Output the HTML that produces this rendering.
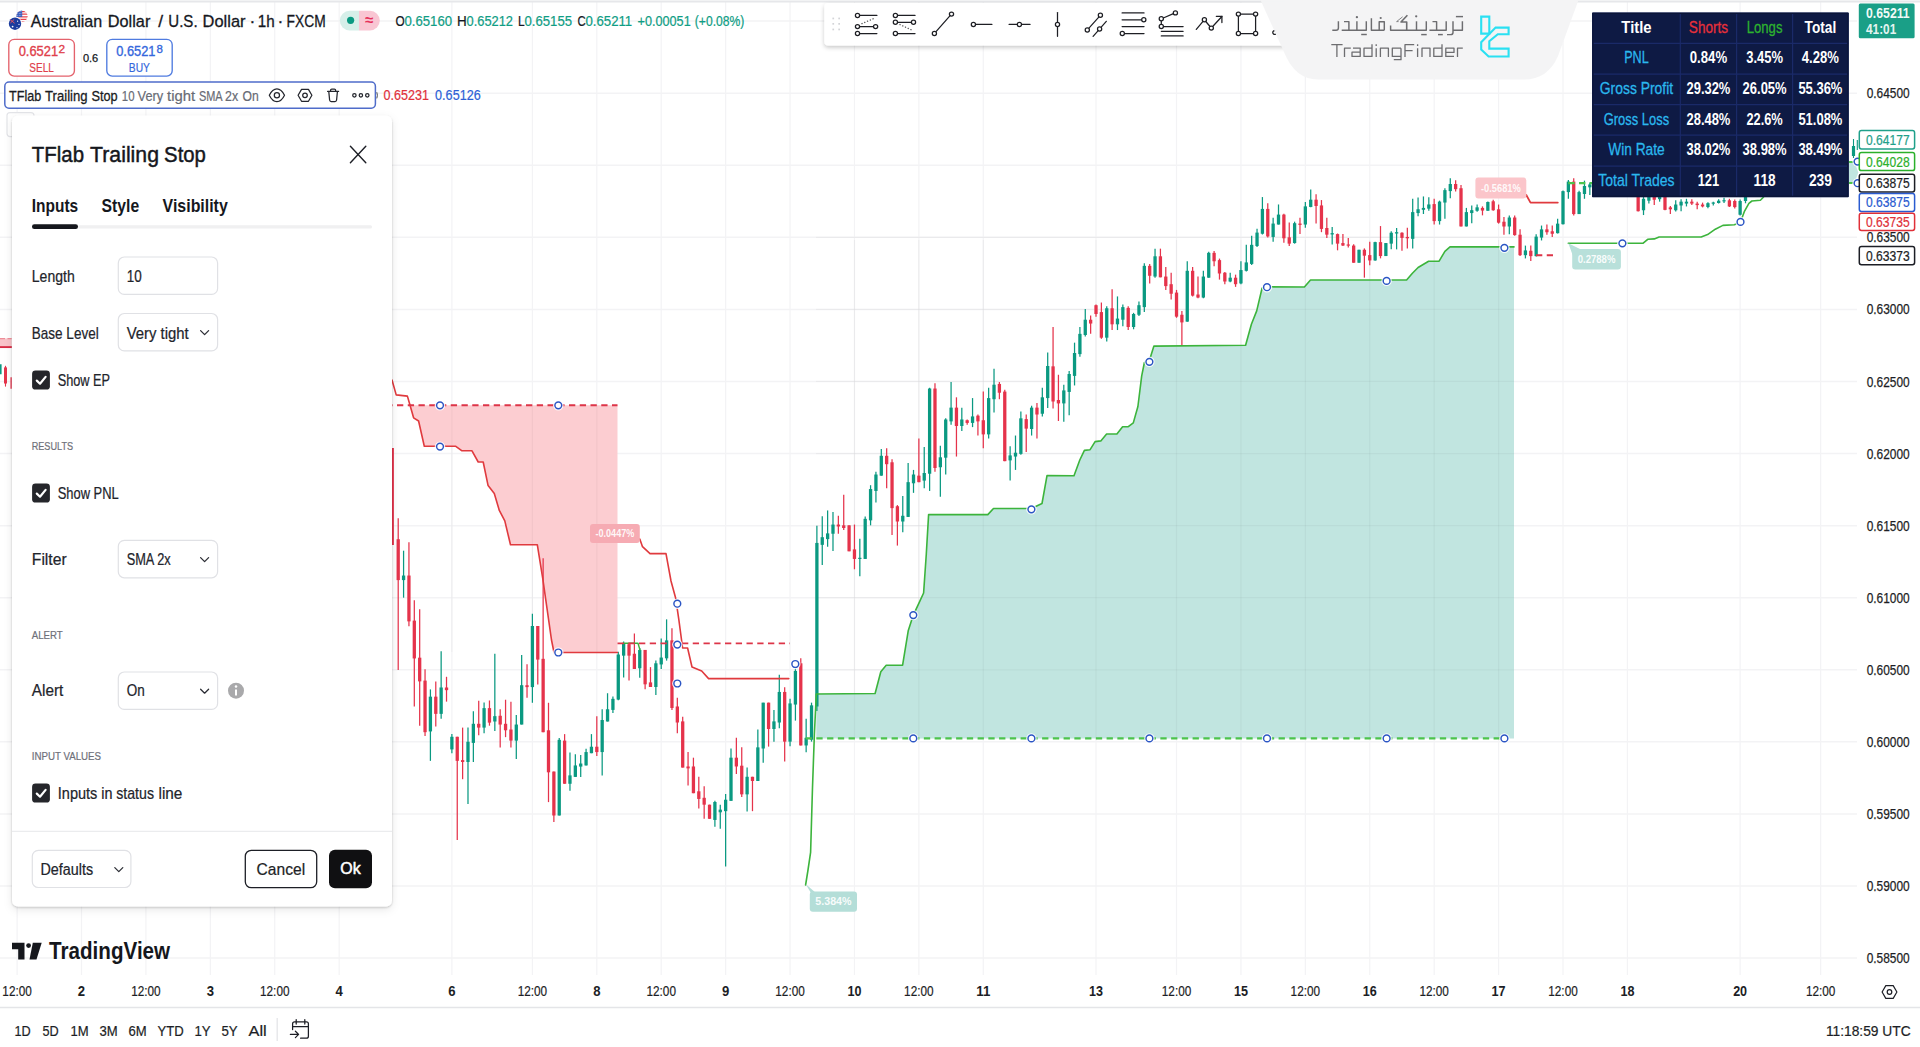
<!DOCTYPE html><html><head><meta charset="utf-8"><title>AUDUSD</title>
<style>html,body{margin:0;padding:0;background:#fff;width:1920px;height:1047px;overflow:hidden}svg{display:block;position:absolute;left:0;top:0}text{font-family:"Liberation Sans",sans-serif;}</style></head><body>
<svg width="1920" height="1047" viewBox="0 0 1920 1047">
<defs><filter id="sh" x="-10%" y="-10%" width="120%" height="120%"><feDropShadow dx="0" dy="1" stdDeviation="1.1" flood-color="#000" flood-opacity="0.2"/><feDropShadow dx="0" dy="3" stdDeviation="4" flood-color="#000" flood-opacity="0.09"/></filter><filter id="sh2" x="-10%" y="-40%" width="120%" height="200%"><feDropShadow dx="0" dy="2" stdDeviation="2.2" flood-color="#000" flood-opacity="0.22"/></filter><clipPath id="cpTool"><rect x="815" y="0" width="470" height="60"/></clipPath></defs>
<rect width="1920" height="1047" fill="#fff"/>
<g stroke="#f3f3f5" stroke-width="1.5" fill="none"><path d="M17.1,2V975" stroke-width="1.2"/><path d="M81.51,2V975" stroke-width="1.2"/><path d="M145.93,2V975" stroke-width="1.2"/><path d="M210.34,2V975" stroke-width="1.2"/><path d="M274.75,2V975" stroke-width="1.2"/><path d="M339.16,2V975" stroke-width="1.2"/><path d="M451.88,2V975" stroke-width="1.2"/><path d="M532.4,2V975" stroke-width="1.2"/><path d="M596.81,2V975" stroke-width="1.2"/><path d="M661.22,2V975" stroke-width="1.2"/><path d="M725.64,2V975" stroke-width="1.2"/><path d="M790.05,2V975" stroke-width="1.2"/><path d="M854.46,2V975" stroke-width="1.2"/><path d="M918.87,2V975" stroke-width="1.2"/><path d="M983.29,2V975" stroke-width="1.2"/><path d="M1096.01,2V975" stroke-width="1.2"/><path d="M1176.52,2V975" stroke-width="1.2"/><path d="M1240.94,2V975" stroke-width="1.2"/><path d="M1305.35,2V975" stroke-width="1.2"/><path d="M1369.76,2V975" stroke-width="1.2"/><path d="M1434.17,2V975" stroke-width="1.2"/><path d="M1498.59,2V975" stroke-width="1.2"/><path d="M1563,2V975" stroke-width="1.2"/><path d="M1627.41,2V975" stroke-width="1.2"/><path d="M1740.13,2V975" stroke-width="1.2"/><path d="M1820.65,2V975" stroke-width="1.2"/><path d="M0,21.07H1857"/><path d="M0,93.15H1857"/><path d="M0,165.23H1857"/><path d="M0,237.31H1857"/><path d="M0,309.39H1857"/><path d="M0,381.47H1857"/><path d="M0,453.55H1857"/><path d="M0,525.63H1857"/><path d="M0,597.71H1857"/><path d="M0,669.79H1857"/><path d="M0,741.87H1857"/><path d="M0,813.95H1857"/><path d="M0,886.03H1857"/><path d="M0,958.11H1857"/></g>
<polygon points="816.3,738.4 816.3,694 875.1,693.5 880.8,671.7 886.2,665.2 902.6,665.2 908.3,630.4 913.3,615.1 918.7,603.7 923.6,593 926.3,554 928.6,514.6 987.8,514.6 993.5,508.5 1031.4,508.5 1042,503.5 1047,475.6 1074,475.8 1079.8,460 1084.4,450.4 1090.1,449.7 1095.1,441.6 1100.8,440.9 1106.6,434 1116.9,434 1122.6,426.7 1128.3,426.7 1133.3,422.9 1137.9,406.5 1141.7,375.9 1144.4,362.5 1149.4,360.6 1153.9,346.1 1245.6,345.3 1251.4,324.3 1256.7,310.9 1262.1,288 1267,286.9 1304.4,287 1310.5,280 1406.6,280 1412.4,273.3 1418.1,267.5 1428.6,261.2 1439.1,261.2 1444.9,251.3 1450,246.9 1514,246.9 1514,738.4" fill="#c1e5e0"/><polygon points="409.9,405.3 409.9,404.8 413.6,417.8 418.6,421 424.3,446.3 455.8,446.3 462,450.8 472,450.8 478.2,462 483.2,462 488.1,485.6 494.3,493.5 499.3,510.4 504.8,520.9 510.5,544.7 537.3,544.7 542.8,578.8 551.5,640 554,652.5 617.5,652.5 617.5,405.3" fill="#fccdd1"/><g stroke="#000" stroke-opacity="0.035" stroke-width="1.3"><path d="M451.88,405.3V652"/><path d="M532.4,405.3V652"/><path d="M596.81,405.3V652"/><path d="M854.46,240V738.4"/><path d="M918.87,240V738.4"/><path d="M983.29,240V738.4"/><path d="M1096.01,240V738.4"/><path d="M1176.52,240V738.4"/><path d="M1240.94,240V738.4"/><path d="M1305.35,240V738.4"/><path d="M1369.76,240V738.4"/><path d="M1434.17,240V738.4"/><path d="M1498.59,240V738.4"/><path d="M816,237.31H1514"/><path d="M816,309.39H1514"/><path d="M816,381.47H1514"/><path d="M816,453.55H1514"/><path d="M816,525.63H1514"/><path d="M816,597.71H1514"/><path d="M816,669.79H1514"/></g><path d="M1848.5,162 L1854.5,162 L1858.3,172.5 L1854.5,183 L1848.5,183Z" fill="#c1e5e0"/>
<g stroke="#0a9981" fill="none"><path d="M403.58,550.69V597.69" stroke-width="1.25"/><path d="M403.58,575.53V580.11" stroke-width="3.3"/><path d="M430.41,689.4V760.86" stroke-width="1.25"/><path d="M430.41,696.66V731.43" stroke-width="3.3"/><path d="M441.15,651.19V718.82" stroke-width="1.25"/><path d="M441.15,687.49V713.86" stroke-width="3.3"/><path d="M451.88,734.11V753.21" stroke-width="1.25"/><path d="M451.88,736.78V749.39" stroke-width="3.3"/><path d="M467.99,727.61V804.04" stroke-width="1.25"/><path d="M467.99,741.75V762" stroke-width="3.3"/><path d="M473.36,711.18V762" stroke-width="1.25"/><path d="M473.36,723.79V742.9" stroke-width="3.3"/><path d="M484.09,702.39V733.34" stroke-width="1.25"/><path d="M484.09,708.12V727.61" stroke-width="3.3"/><path d="M494.83,653.86V731.05" stroke-width="1.25"/><path d="M494.83,716.15V721.5" stroke-width="3.3"/><path d="M516.3,715V758.95" stroke-width="1.25"/><path d="M516.3,724.55V740.6" stroke-width="3.3"/><path d="M521.66,655.01V724.55" stroke-width="1.25"/><path d="M521.66,685.2V724.55" stroke-width="3.3"/><path d="M532.4,613.74V702.77" stroke-width="1.25"/><path d="M532.4,625.97V687.11" stroke-width="3.3"/><path d="M559.24,737.93V815.5" stroke-width="1.25"/><path d="M559.24,739.84V815.5" stroke-width="3.3"/><path d="M569.97,752.45V790.66" stroke-width="1.25"/><path d="M569.97,775.38V783.78" stroke-width="3.3"/><path d="M575.34,754.36V776.9" stroke-width="1.25"/><path d="M575.34,765.44V776.9" stroke-width="3.3"/><path d="M580.71,755.12V776.9" stroke-width="1.25"/><path d="M580.71,763.53V766.59" stroke-width="3.3"/><path d="M586.08,748.63V765.44" stroke-width="1.25"/><path d="M586.08,752.07V765.44" stroke-width="3.3"/><path d="M591.44,734.11V753.21" stroke-width="1.25"/><path d="M591.44,746.72V753.21" stroke-width="3.3"/><path d="M602.18,709.27V775.38" stroke-width="1.25"/><path d="M602.18,719.97V752.07" stroke-width="3.3"/><path d="M607.55,693.22V721.5" stroke-width="1.25"/><path d="M607.55,709.27V721.5" stroke-width="3.3"/><path d="M612.92,696.54V712.97" stroke-width="1.25"/><path d="M612.92,698.83V709.91" stroke-width="3.3"/><path d="M618.28,651.83V700.36" stroke-width="1.25"/><path d="M618.28,654.51V699.59" stroke-width="3.3"/><path d="M623.65,641.51V677.43" stroke-width="1.25"/><path d="M623.65,643.04V655.65" stroke-width="3.3"/><path d="M639.75,648.01V677.81" stroke-width="1.25"/><path d="M639.75,649.92V668.26" stroke-width="3.3"/><path d="M655.86,660.62V695.01" stroke-width="1.25"/><path d="M655.86,663.29V686.99" stroke-width="3.3"/><path d="M661.22,638.46V669.03" stroke-width="1.25"/><path d="M661.22,657.56V664.44" stroke-width="3.3"/><path d="M666.59,619.35V660.62" stroke-width="1.25"/><path d="M666.59,640.37V658.33" stroke-width="3.3"/><path d="M714.9,800.86V826.84" stroke-width="1.25"/><path d="M714.9,802V819.96" stroke-width="3.3"/><path d="M720.27,804.68V828.75" stroke-width="1.25"/><path d="M720.27,809.64V812.32" stroke-width="3.3"/><path d="M725.64,793.98V866.58" stroke-width="1.25"/><path d="M725.64,799.71V811.17" stroke-width="3.3"/><path d="M731,748.51V800.86" stroke-width="1.25"/><path d="M731,757.68V800.86" stroke-width="3.3"/><path d="M747.11,767.61V811.56" stroke-width="1.25"/><path d="M747.11,776.78V794.36" stroke-width="3.3"/><path d="M757.84,729.4V780.99" stroke-width="1.25"/><path d="M757.84,747.36V780.99" stroke-width="3.3"/><path d="M763.21,702.65V762.64" stroke-width="1.25"/><path d="M763.21,702.65V748.51" stroke-width="3.3"/><path d="M773.95,709.91V741.63" stroke-width="1.25"/><path d="M773.95,721.38V729.02" stroke-width="3.3"/><path d="M779.31,674.76V728.25" stroke-width="1.25"/><path d="M779.31,691.95V722.52" stroke-width="3.3"/><path d="M790.05,698.83V746.21" stroke-width="1.25"/><path d="M790.05,703.42V741.63" stroke-width="3.3"/><path d="M795.42,667.12V720.61" stroke-width="1.25"/><path d="M795.42,670.94V704.56" stroke-width="3.3"/><path d="M806.15,718.7V752.33" stroke-width="1.25"/><path d="M806.15,737.81V745.45" stroke-width="3.3"/><path d="M811.52,702.65V741.63" stroke-width="1.25"/><path d="M811.52,705.33V739.72" stroke-width="3.3"/><path d="M816.89,525.73V711.06" stroke-width="1.25"/><path d="M816.89,542.93V706.47" stroke-width="3.3"/><path d="M822.26,516.18V565.09" stroke-width="1.25"/><path d="M822.26,537.2V544.84" stroke-width="3.3"/><path d="M827.62,510.45V546.75" stroke-width="1.25"/><path d="M827.62,533.37V539.11" stroke-width="3.3"/><path d="M832.99,511.95V550.93" stroke-width="1.25"/><path d="M832.99,524.56V533.73" stroke-width="3.3"/><path d="M859.83,538.7V576.15" stroke-width="1.25"/><path d="M859.83,557.78V558.98" stroke-width="3.3"/><path d="M865.2,516.54V558.95" stroke-width="1.25"/><path d="M865.2,518.83V558.95" stroke-width="3.3"/><path d="M870.57,485.2V525.33" stroke-width="1.25"/><path d="M870.57,489.03V520.36" stroke-width="3.3"/><path d="M875.93,471.83V502.4" stroke-width="1.25"/><path d="M875.93,474.51V490.94" stroke-width="3.3"/><path d="M881.3,448.9V475.65" stroke-width="1.25"/><path d="M881.3,455.78V475.65" stroke-width="3.3"/><path d="M902.77,495.9V532.2" stroke-width="1.25"/><path d="M902.77,515.77V521.51" stroke-width="3.3"/><path d="M908.14,463.04V516.92" stroke-width="1.25"/><path d="M908.14,482.15V516.92" stroke-width="3.3"/><path d="M913.51,469.92V492.85" stroke-width="1.25"/><path d="M913.51,474.51V483.29" stroke-width="3.3"/><path d="M924.24,446.99V488.26" stroke-width="1.25"/><path d="M924.24,472.98V480.62" stroke-width="3.3"/><path d="M929.61,387.76V490.94" stroke-width="1.25"/><path d="M929.61,388.53V473.74" stroke-width="3.3"/><path d="M940.35,445.85V496.67" stroke-width="1.25"/><path d="M940.35,457.31V467.24" stroke-width="3.3"/><path d="M945.71,418.33V474.51" stroke-width="1.25"/><path d="M945.71,419.48V457.69" stroke-width="3.3"/><path d="M951.08,382.03V424.83" stroke-width="1.25"/><path d="M951.08,407.63V421.39" stroke-width="3.3"/><path d="M961.82,407.63V430.94" stroke-width="1.25"/><path d="M961.82,419.48V425.98" stroke-width="3.3"/><path d="M972.55,398.08V427.12" stroke-width="1.25"/><path d="M972.55,416.42V422.92" stroke-width="3.3"/><path d="M988.65,387.76V438.59" stroke-width="1.25"/><path d="M988.65,398.08V434.38" stroke-width="3.3"/><path d="M994.02,368.66V412.6" stroke-width="1.25"/><path d="M994.02,384.71V399.23" stroke-width="3.3"/><path d="M1010.13,446.23V480.62" stroke-width="1.25"/><path d="M1010.13,455.4V460.37" stroke-width="3.3"/><path d="M1015.49,435.53V469.92" stroke-width="1.25"/><path d="M1015.49,452.72V456.55" stroke-width="3.3"/><path d="M1020.86,411.46V454.64" stroke-width="1.25"/><path d="M1020.86,418.33V453.87" stroke-width="3.3"/><path d="M1031.6,405.72V435.53" stroke-width="1.25"/><path d="M1031.6,407.63V429.03" stroke-width="3.3"/><path d="M1042.33,387.76V416.42" stroke-width="1.25"/><path d="M1042.33,397.32V413.75" stroke-width="3.3"/><path d="M1047.7,352.61V408.02" stroke-width="1.25"/><path d="M1047.7,365.98V398.08" stroke-width="3.3"/><path d="M1063.8,384.68V421.75" stroke-width="1.25"/><path d="M1063.8,390.42V403.41" stroke-width="3.3"/><path d="M1069.17,370.93V415.25" stroke-width="1.25"/><path d="M1069.17,373.99V391.94" stroke-width="3.3"/><path d="M1074.54,342.65V385.45" stroke-width="1.25"/><path d="M1074.54,352.97V375.9" stroke-width="3.3"/><path d="M1079.91,326.99V356.79" stroke-width="1.25"/><path d="M1079.91,333.86V354.12" stroke-width="3.3"/><path d="M1085.27,309.03V336.54" stroke-width="1.25"/><path d="M1085.27,319.72V335.01" stroke-width="3.3"/><path d="M1106.74,306.35V341.51" stroke-width="1.25"/><path d="M1106.74,308.26V337.68" stroke-width="3.3"/><path d="M1117.48,296.42V330.04" stroke-width="1.25"/><path d="M1117.48,318.58V324.31" stroke-width="3.3"/><path d="M1122.85,304.44V326.22" stroke-width="1.25"/><path d="M1122.85,307.12V319.72" stroke-width="3.3"/><path d="M1133.58,312.85V329.28" stroke-width="1.25"/><path d="M1133.58,313.99V326.99" stroke-width="3.3"/><path d="M1138.95,301.38V315.9" stroke-width="1.25"/><path d="M1138.95,305.2V314.76" stroke-width="3.3"/><path d="M1144.32,263.17V312.08" stroke-width="1.25"/><path d="M1144.32,265.85V307.12" stroke-width="3.3"/><path d="M1155.05,248.65V277.69" stroke-width="1.25"/><path d="M1155.05,256.29V276.55" stroke-width="3.3"/><path d="M1187.26,261.26V321.64" stroke-width="1.25"/><path d="M1187.26,270.81V321.64" stroke-width="3.3"/><path d="M1203.36,270.81V298.33" stroke-width="1.25"/><path d="M1203.36,276.55V297.56" stroke-width="3.3"/><path d="M1208.73,251.71V277.69" stroke-width="1.25"/><path d="M1208.73,252.85V277.69" stroke-width="3.3"/><path d="M1230.2,272.72V282.28" stroke-width="1.25"/><path d="M1230.2,277.69V281.51" stroke-width="3.3"/><path d="M1240.94,261.26V284.19" stroke-width="1.25"/><path d="M1240.94,270.05V283.42" stroke-width="3.3"/><path d="M1246.3,244.83V271.58" stroke-width="1.25"/><path d="M1246.3,262.41V270.81" stroke-width="3.3"/><path d="M1251.67,235.66V265.08" stroke-width="1.25"/><path d="M1251.67,244.83V263.94" stroke-width="3.3"/><path d="M1257.04,228.78V247.12" stroke-width="1.25"/><path d="M1257.04,232.6V245.98" stroke-width="3.3"/><path d="M1262.41,197.07V234.51" stroke-width="1.25"/><path d="M1262.41,208.91V233.75" stroke-width="3.3"/><path d="M1273.14,217.84V241.73" stroke-width="1.25"/><path d="M1273.14,223.57V236.95" stroke-width="3.3"/><path d="M1278.51,204.46V224.53" stroke-width="1.25"/><path d="M1278.51,214.59V224.53" stroke-width="3.3"/><path d="M1294.61,221.66V243.64" stroke-width="1.25"/><path d="M1294.61,223.19V243.06" stroke-width="3.3"/><path d="M1305.35,201.98V227.78" stroke-width="1.25"/><path d="M1305.35,206.37V224.53" stroke-width="3.3"/><path d="M1310.72,189.56V207.33" stroke-width="1.25"/><path d="M1310.72,199.68V206.95" stroke-width="3.3"/><path d="M1332.19,227.01V244.59" stroke-width="1.25"/><path d="M1332.19,233.13V234.46" stroke-width="3.3"/><path d="M1359.03,249.75V262.75" stroke-width="1.25"/><path d="M1359.03,249.75V262.75" stroke-width="3.3"/><path d="M1375.13,241.73V260.84" stroke-width="1.25"/><path d="M1375.13,242.11V260.45" stroke-width="3.3"/><path d="M1385.86,243.06V256.06" stroke-width="1.25"/><path d="M1385.86,243.06V256.06" stroke-width="3.3"/><path d="M1391.23,231.22V249.37" stroke-width="1.25"/><path d="M1391.23,232.74V243.64" stroke-width="3.3"/><path d="M1396.6,227.97V249.37" stroke-width="1.25"/><path d="M1396.6,232.17V233.51" stroke-width="3.3"/><path d="M1412.7,198.73V248.41" stroke-width="1.25"/><path d="M1412.7,212.11V238.86" stroke-width="3.3"/><path d="M1418.07,197.39V216.31" stroke-width="1.25"/><path d="M1418.07,209.24V213.06" stroke-width="3.3"/><path d="M1423.44,196.44V214.02" stroke-width="1.25"/><path d="M1423.44,207.9V209.81" stroke-width="3.3"/><path d="M1428.81,197.2V210.77" stroke-width="1.25"/><path d="M1428.81,204.46V208.67" stroke-width="3.3"/><path d="M1439.54,200.64V224.53" stroke-width="1.25"/><path d="M1439.54,201.6V221.09" stroke-width="3.3"/><path d="M1444.91,188.22V218.79" stroke-width="1.25"/><path d="M1444.91,190.13V202.55" stroke-width="3.3"/><path d="M1450.28,178.28V198.16" stroke-width="1.25"/><path d="M1450.28,184.01V191.09" stroke-width="3.3"/><path d="M1466.38,207.9V226.44" stroke-width="1.25"/><path d="M1466.38,212.11V226.44" stroke-width="3.3"/><path d="M1471.75,205.42V223.19" stroke-width="1.25"/><path d="M1471.75,210.19V213.06" stroke-width="3.3"/><path d="M1477.12,204.46V211.72" stroke-width="1.25"/><path d="M1477.12,207.33V210.77" stroke-width="3.3"/><path d="M1487.85,201.6V210.77" stroke-width="1.25"/><path d="M1487.85,201.98V210.77" stroke-width="3.3"/><path d="M1509.32,215.61V234.15" stroke-width="1.25"/><path d="M1509.32,217.52V226.5" stroke-width="3.3"/><path d="M1525.42,245.61V258.42" stroke-width="1.25"/><path d="M1525.42,250.39V255.17" stroke-width="3.3"/><path d="M1536.16,234.15V256.5" stroke-width="1.25"/><path d="M1536.16,236.63V256.12" stroke-width="3.3"/><path d="M1541.53,225.55V240.45" stroke-width="1.25"/><path d="M1541.53,229.37V237.59" stroke-width="3.3"/><path d="M1557.63,218.86V233.57" stroke-width="1.25"/><path d="M1557.63,223.64V233.19" stroke-width="3.3"/><path d="M1563,190.58V224.59" stroke-width="1.25"/><path d="M1563,191.15V224.21" stroke-width="3.3"/><path d="M1568.37,180.07V198.79" stroke-width="1.25"/><path d="M1568.37,181.6V192.11" stroke-width="3.3"/><path d="M1579.1,190.77V214.08" stroke-width="1.25"/><path d="M1579.1,192.11V214.08" stroke-width="3.3"/><path d="M1584.47,180.64V198.79" stroke-width="1.25"/><path d="M1584.47,185.99V194.02" stroke-width="3.3"/><path d="M1589.84,182.55V194.97" stroke-width="1.25"/><path d="M1589.84,184.46V187.33" stroke-width="3.3"/><path d="M1605.94,185.42V195.93" stroke-width="1.25"/><path d="M1605.94,189.24V194.97" stroke-width="3.3"/><path d="M1611.31,183.51V194.97" stroke-width="1.25"/><path d="M1611.31,187.33V192.11" stroke-width="3.3"/><path d="M1622.04,185.42V195.93" stroke-width="1.25"/><path d="M1622.04,189.24V194.02" stroke-width="3.3"/><path d="M1643.51,195.93V215.04" stroke-width="1.25"/><path d="M1643.51,198.79V210.26" stroke-width="3.3"/><path d="M1648.88,194.97V203.57" stroke-width="1.25"/><path d="M1648.88,196.88V200.71" stroke-width="3.3"/><path d="M1659.62,194.97V201.66" stroke-width="1.25"/><path d="M1659.62,196.88V199.18" stroke-width="3.3"/><path d="M1675.72,200.32V211.6" stroke-width="1.25"/><path d="M1675.72,204.53V210.26" stroke-width="3.3"/><path d="M1681.09,199.18V211.22" stroke-width="1.25"/><path d="M1681.09,201.66V205.48" stroke-width="3.3"/><path d="M1686.46,198.79V206.44" stroke-width="1.25"/><path d="M1686.46,201.66V203.57" stroke-width="3.3"/><path d="M1707.93,202.23V208.35" stroke-width="1.25"/><path d="M1707.93,203.19V207.01" stroke-width="3.3"/><path d="M1713.29,201.66V205.48" stroke-width="1.25"/><path d="M1713.29,202.49V203.69" stroke-width="3.3"/><path d="M1718.66,199.18V203.57" stroke-width="1.25"/><path d="M1718.66,200.71V203" stroke-width="3.3"/><path d="M1724.03,197.84V203" stroke-width="1.25"/><path d="M1724.03,200.2V201.4" stroke-width="3.3"/><path d="M1740.13,199.45V215.49" stroke-width="1.25"/><path d="M1740.13,200.98V214.73" stroke-width="3.3"/><path d="M1745.5,191.81V203.27" stroke-width="1.25"/><path d="M1745.5,193.34V200.98" stroke-width="3.3"/><path d="M1750.87,185.7V196.39" stroke-width="1.25"/><path d="M1750.87,187.23V194.1" stroke-width="3.3"/><path d="M1761.6,178.06V188.75" stroke-width="1.25"/><path d="M1761.6,181.12V187.23" stroke-width="3.3"/><path d="M1766.97,175V184.17" stroke-width="1.25"/><path d="M1766.97,178.06V181.88" stroke-width="3.3"/></g><g stroke="#e5334b" fill="none"><path d="M398.21,518.21V669.91" stroke-width="1.25"/><path d="M398.21,539.23V580.11" stroke-width="3.3"/><path d="M408.94,542.29V626.35" stroke-width="1.25"/><path d="M408.94,575.53V621.38" stroke-width="3.3"/><path d="M414.31,600.37V706.6" stroke-width="1.25"/><path d="M414.31,620.62V658.45" stroke-width="3.3"/><path d="M419.68,609.16V725.7" stroke-width="1.25"/><path d="M419.68,657.68V681.38" stroke-width="3.3"/><path d="M425.05,669.15V736.02" stroke-width="1.25"/><path d="M425.05,680.61V732.2" stroke-width="3.3"/><path d="M435.78,681.38V726.47" stroke-width="1.25"/><path d="M435.78,696.66V713.86" stroke-width="3.3"/><path d="M446.52,676.79V701.63" stroke-width="1.25"/><path d="M446.52,687.49V690.16" stroke-width="3.3"/><path d="M457.25,736.78V839.95" stroke-width="1.25"/><path d="M457.25,736.78V760.86" stroke-width="3.3"/><path d="M462.62,727.61V779.2" stroke-width="1.25"/><path d="M462.62,760.09V762" stroke-width="3.3"/><path d="M478.72,700.86V735.25" stroke-width="1.25"/><path d="M478.72,723.79V727.61" stroke-width="3.3"/><path d="M489.46,700.48V725.7" stroke-width="1.25"/><path d="M489.46,708.12V722.64" stroke-width="3.3"/><path d="M500.19,709.27V747.48" stroke-width="1.25"/><path d="M500.19,715.77V724.55" stroke-width="3.3"/><path d="M505.56,699.72V737.16" stroke-width="1.25"/><path d="M505.56,723.79V730.29" stroke-width="3.3"/><path d="M510.93,701.63V747.48" stroke-width="1.25"/><path d="M510.93,729.52V740.6" stroke-width="3.3"/><path d="M527.03,664.18V697.81" stroke-width="1.25"/><path d="M527.03,685.2V687.11" stroke-width="3.3"/><path d="M537.77,625.97V684.43" stroke-width="1.25"/><path d="M537.77,625.97V659.59" stroke-width="3.3"/><path d="M543.14,558.33V732.2" stroke-width="1.25"/><path d="M543.14,658.83V732.2" stroke-width="3.3"/><path d="M548.5,702.77V802.12" stroke-width="1.25"/><path d="M548.5,730.29V772.32" stroke-width="3.3"/><path d="M553.87,771.56V821.99" stroke-width="1.25"/><path d="M553.87,771.56V815.5" stroke-width="3.3"/><path d="M564.61,734.11V783.78" stroke-width="1.25"/><path d="M564.61,740.6V783.78" stroke-width="3.3"/><path d="M596.81,716.15V755.89" stroke-width="1.25"/><path d="M596.81,746.72V752.07" stroke-width="3.3"/><path d="M629.02,643.04V680.49" stroke-width="1.25"/><path d="M629.02,644.19V655.65" stroke-width="3.3"/><path d="M634.39,633.49V669.03" stroke-width="1.25"/><path d="M634.39,653.74V669.03" stroke-width="3.3"/><path d="M645.12,649.92V689.28" stroke-width="1.25"/><path d="M645.12,649.92V684.31" stroke-width="3.3"/><path d="M650.49,667.12V686.99" stroke-width="1.25"/><path d="M650.49,682.4V686.99" stroke-width="3.3"/><path d="M671.96,628.14V709.91" stroke-width="1.25"/><path d="M671.96,640.37V708" stroke-width="3.3"/><path d="M677.33,697.68V733.22" stroke-width="1.25"/><path d="M677.33,706.47V722.52" stroke-width="3.3"/><path d="M682.7,716.79V767.61" stroke-width="1.25"/><path d="M682.7,721.38V767.61" stroke-width="3.3"/><path d="M688.06,751.94V785.57" stroke-width="1.25"/><path d="M688.06,766.47V768.38" stroke-width="3.3"/><path d="M693.43,757.68V793.21" stroke-width="1.25"/><path d="M693.43,766.47V793.21" stroke-width="3.3"/><path d="M698.8,776.78V808.5" stroke-width="1.25"/><path d="M698.8,791.3V798.95" stroke-width="3.3"/><path d="M704.17,786.34V818.82" stroke-width="1.25"/><path d="M704.17,797.8V804.68" stroke-width="3.3"/><path d="M709.53,804.68V818.82" stroke-width="1.25"/><path d="M709.53,804.68V818.82" stroke-width="3.3"/><path d="M736.37,737.81V774.11" stroke-width="1.25"/><path d="M736.37,757.68V766.47" stroke-width="3.3"/><path d="M741.74,747.36V797.03" stroke-width="1.25"/><path d="M741.74,765.7V794.36" stroke-width="3.3"/><path d="M752.48,776.78V811.17" stroke-width="1.25"/><path d="M752.48,776.78V780.99" stroke-width="3.3"/><path d="M768.58,702.65V746.6" stroke-width="1.25"/><path d="M768.58,702.65V729.02" stroke-width="3.3"/><path d="M784.68,687.37V761.5" stroke-width="1.25"/><path d="M784.68,691.95V741.63" stroke-width="3.3"/><path d="M800.78,658.33V745.45" stroke-width="1.25"/><path d="M800.78,663.29V745.45" stroke-width="3.3"/><path d="M838.36,515.77V533.73" stroke-width="1.25"/><path d="M838.36,524.56V526.47" stroke-width="3.3"/><path d="M843.73,494.76V529.91" stroke-width="1.25"/><path d="M843.73,525.33V528" stroke-width="3.3"/><path d="M849.09,525.33V551.31" stroke-width="1.25"/><path d="M849.09,525.33V551.31" stroke-width="3.3"/><path d="M854.46,524.56V569.27" stroke-width="1.25"/><path d="M854.46,549.4V558.95" stroke-width="3.3"/><path d="M886.67,448.14V488.26" stroke-width="1.25"/><path d="M886.67,455.78V464.19" stroke-width="3.3"/><path d="M892.04,459.22V534.88" stroke-width="1.25"/><path d="M892.04,462.28V508.13" stroke-width="3.3"/><path d="M897.4,505.07V545.58" stroke-width="1.25"/><path d="M897.4,506.22V521.51" stroke-width="3.3"/><path d="M918.87,438.59V482.15" stroke-width="1.25"/><path d="M918.87,475.65V482.15" stroke-width="3.3"/><path d="M934.98,383.18V471.83" stroke-width="1.25"/><path d="M934.98,388.53V468.01" stroke-width="3.3"/><path d="M956.45,397.32V456.55" stroke-width="1.25"/><path d="M956.45,407.63V425.98" stroke-width="3.3"/><path d="M967.18,419.48V424.83" stroke-width="1.25"/><path d="M967.18,420.24V422.92" stroke-width="3.3"/><path d="M977.92,414.51V435.53" stroke-width="1.25"/><path d="M977.92,415.66V421.39" stroke-width="3.3"/><path d="M983.29,391.59V448.14" stroke-width="1.25"/><path d="M983.29,420.24V434.38" stroke-width="3.3"/><path d="M999.39,382.03V399.23" stroke-width="1.25"/><path d="M999.39,383.94V392.73" stroke-width="3.3"/><path d="M1004.76,389.68V461.13" stroke-width="1.25"/><path d="M1004.76,391.59V461.13" stroke-width="3.3"/><path d="M1026.23,414.51V451.96" stroke-width="1.25"/><path d="M1026.23,419.1V428.65" stroke-width="3.3"/><path d="M1036.96,403.05V438.59" stroke-width="1.25"/><path d="M1036.96,407.63V414.51" stroke-width="3.3"/><path d="M1053.07,326.99V408.38" stroke-width="1.25"/><path d="M1053.07,366.34V401.5" stroke-width="3.3"/><path d="M1058.43,374.75V420.99" stroke-width="1.25"/><path d="M1058.43,399.97V403.41" stroke-width="3.3"/><path d="M1090.64,315.52V333.86" stroke-width="1.25"/><path d="M1090.64,319.72V323.55" stroke-width="3.3"/><path d="M1096.01,304.44V316.67" stroke-width="1.25"/><path d="M1096.01,305.2V313.99" stroke-width="3.3"/><path d="M1101.38,302.53V338.83" stroke-width="1.25"/><path d="M1101.38,312.08V337.68" stroke-width="3.3"/><path d="M1112.11,289.16V330.04" stroke-width="1.25"/><path d="M1112.11,308.26V324.31" stroke-width="3.3"/><path d="M1128.21,306.35V330.04" stroke-width="1.25"/><path d="M1128.21,307.88V326.99" stroke-width="3.3"/><path d="M1149.69,263.94V283.42" stroke-width="1.25"/><path d="M1149.69,265.85V275.78" stroke-width="3.3"/><path d="M1160.42,248.65V277.31" stroke-width="1.25"/><path d="M1160.42,256.29V277.31" stroke-width="3.3"/><path d="M1165.79,266.99V289.92" stroke-width="1.25"/><path d="M1165.79,276.55V286.1" stroke-width="3.3"/><path d="M1171.16,272.72V299.47" stroke-width="1.25"/><path d="M1171.16,284.19V293.74" stroke-width="3.3"/><path d="M1176.52,289.92V317.81" stroke-width="1.25"/><path d="M1176.52,292.59V316.67" stroke-width="3.3"/><path d="M1181.89,310.94V345.33" stroke-width="1.25"/><path d="M1181.89,314.76V322.4" stroke-width="3.3"/><path d="M1192.63,266.99V296.42" stroke-width="1.25"/><path d="M1192.63,270.81V295.65" stroke-width="3.3"/><path d="M1197.99,276.55V298.33" stroke-width="1.25"/><path d="M1197.99,294.51V297.56" stroke-width="3.3"/><path d="M1214.1,250.94V266.23" stroke-width="1.25"/><path d="M1214.1,252.85V261.26" stroke-width="3.3"/><path d="M1219.47,258.59V279.6" stroke-width="1.25"/><path d="M1219.47,260.11V273.49" stroke-width="3.3"/><path d="M1224.83,271.96V284.19" stroke-width="1.25"/><path d="M1224.83,272.72V281.51" stroke-width="3.3"/><path d="M1235.57,274.64V286.86" stroke-width="1.25"/><path d="M1235.57,277.69V284.19" stroke-width="3.3"/><path d="M1267.77,203.18V237.57" stroke-width="1.25"/><path d="M1267.77,208.91V236.42" stroke-width="3.3"/><path d="M1283.88,213.63V242.68" stroke-width="1.25"/><path d="M1283.88,214.59V238.29" stroke-width="3.3"/><path d="M1289.25,222.62V246.12" stroke-width="1.25"/><path d="M1289.25,237.33V243.64" stroke-width="3.3"/><path d="M1299.98,217.84V234.08" stroke-width="1.25"/><path d="M1299.98,223.57V224.91" stroke-width="3.3"/><path d="M1316.08,194.33V223.57" stroke-width="1.25"/><path d="M1316.08,199.68V205.99" stroke-width="3.3"/><path d="M1321.45,200.07V232.17" stroke-width="1.25"/><path d="M1321.45,205.42V228.92" stroke-width="3.3"/><path d="M1326.82,217.84V237.9" stroke-width="1.25"/><path d="M1326.82,227.97V234.66" stroke-width="3.3"/><path d="M1337.55,233.51V250.32" stroke-width="1.25"/><path d="M1337.55,234.08V243.64" stroke-width="3.3"/><path d="M1342.92,234.08V246.12" stroke-width="1.25"/><path d="M1342.92,243.06V245.55" stroke-width="3.3"/><path d="M1348.29,237.9V247.46" stroke-width="1.25"/><path d="M1348.29,244.47V245.67" stroke-width="3.3"/><path d="M1353.66,244.21V262.75" stroke-width="1.25"/><path d="M1353.66,245.55V262.75" stroke-width="3.3"/><path d="M1364.39,248.41V277.65" stroke-width="1.25"/><path d="M1364.39,249.75V255.68" stroke-width="3.3"/><path d="M1369.76,241.73V265.23" stroke-width="1.25"/><path d="M1369.76,255.1V260.45" stroke-width="3.3"/><path d="M1380.5,226.06V258.35" stroke-width="1.25"/><path d="M1380.5,242.11V256.06" stroke-width="3.3"/><path d="M1401.97,232.17V250.71" stroke-width="1.25"/><path d="M1401.97,232.74V237.9" stroke-width="3.3"/><path d="M1407.34,227.78V248.41" stroke-width="1.25"/><path d="M1407.34,236.95V238.29" stroke-width="3.3"/><path d="M1434.17,198.73V224.53" stroke-width="1.25"/><path d="M1434.17,204.08V221.09" stroke-width="3.3"/><path d="M1455.64,180.19V191.47" stroke-width="1.25"/><path d="M1455.64,184.01V189.17" stroke-width="3.3"/><path d="M1461.01,184.97V226.44" stroke-width="1.25"/><path d="M1461.01,188.22V226.44" stroke-width="3.3"/><path d="M1482.48,206.37V215.35" stroke-width="1.25"/><path d="M1482.48,207.9V210.58" stroke-width="3.3"/><path d="M1493.22,199.75V210.64" stroke-width="1.25"/><path d="M1493.22,201.28V210.26" stroke-width="3.3"/><path d="M1498.59,204.53V223.64" stroke-width="1.25"/><path d="M1498.59,209.3V222.68" stroke-width="3.3"/><path d="M1503.95,216.95V234.72" stroke-width="1.25"/><path d="M1503.95,221.73V226.5" stroke-width="3.3"/><path d="M1514.69,215.61V235.68" stroke-width="1.25"/><path d="M1514.69,217.52V235.1" stroke-width="3.3"/><path d="M1520.06,229.37V256.12" stroke-width="1.25"/><path d="M1520.06,234.72V255.17" stroke-width="3.3"/><path d="M1530.79,245.61V260.9" stroke-width="1.25"/><path d="M1530.79,250.77V256.12" stroke-width="3.3"/><path d="M1546.9,224.59V234.72" stroke-width="1.25"/><path d="M1546.9,229.37V232.24" stroke-width="3.3"/><path d="M1552.26,225.55V237.01" stroke-width="1.25"/><path d="M1552.26,231.28V233.76" stroke-width="3.3"/><path d="M1573.73,178.16V215.42" stroke-width="1.25"/><path d="M1573.73,181.6V214.08" stroke-width="3.3"/><path d="M1595.2,183.51V195.93" stroke-width="1.25"/><path d="M1595.2,187.33V194.97" stroke-width="3.3"/><path d="M1600.57,187.33V196.88" stroke-width="1.25"/><path d="M1600.57,191.15V195.93" stroke-width="3.3"/><path d="M1616.68,184.46V194.97" stroke-width="1.25"/><path d="M1616.68,187.33V193.06" stroke-width="3.3"/><path d="M1627.41,185.42V194.97" stroke-width="1.25"/><path d="M1627.41,188.28V193.06" stroke-width="3.3"/><path d="M1632.78,187.33V196.88" stroke-width="1.25"/><path d="M1632.78,191.15V195.93" stroke-width="3.3"/><path d="M1638.15,191.15V211.6" stroke-width="1.25"/><path d="M1638.15,193.06V211.22" stroke-width="3.3"/><path d="M1654.25,194.97V204.91" stroke-width="1.25"/><path d="M1654.25,196.88V199.75" stroke-width="3.3"/><path d="M1664.98,194.97V210.26" stroke-width="1.25"/><path d="M1664.98,196.88V209.88" stroke-width="3.3"/><path d="M1670.35,206.06V214.08" stroke-width="1.25"/><path d="M1670.35,207.39V209.3" stroke-width="3.3"/><path d="M1691.82,199.18V204.91" stroke-width="1.25"/><path d="M1691.82,201.66V203.57" stroke-width="3.3"/><path d="M1697.19,201.66V209.3" stroke-width="1.25"/><path d="M1697.19,203.57V205.1" stroke-width="3.3"/><path d="M1702.56,202.62V207.39" stroke-width="1.25"/><path d="M1702.56,204.53V206.44" stroke-width="3.3"/><path d="M1729.4,198.79V207.01" stroke-width="1.25"/><path d="M1729.4,200.32V206.44" stroke-width="3.3"/><path d="M1734.76,199.45V208.62" stroke-width="1.25"/><path d="M1734.76,200.98V207.09" stroke-width="3.3"/><path d="M1756.24,181.12V190.28" stroke-width="1.25"/><path d="M1756.24,185.7V187.99" stroke-width="3.3"/><path d="M1772.34,171.95V181.12" stroke-width="1.25"/><path d="M1772.34,175V179.59" stroke-width="3.3"/></g><rect x="0" y="338.4" width="11.6" height="8.6" fill="#f9c3c9"/><path d="M0,338.6H11.6" stroke="#ee8d98" stroke-width="1.2" stroke-dasharray="5,2.5"/><g stroke="#e5334b" fill="none"><path d="M0,347.1H11.8" stroke-width="1.9" stroke="#d92c45"/><path d="M5.5,367.4V383.5" stroke-width="3"/><path d="M5.5,365.8V386.6" stroke-width="1.1"/><path d="M11.1,377.3V388.8" stroke-width="1.3"/><path d="M392.6,448V545" stroke-width="2.6"/></g><g stroke="#0a9981"><path d="M0.4,364.3V374.3" stroke-width="2.4"/><path d="M1853.5,139V158" stroke-width="1.1"/><path d="M1853.5,146V156" stroke-width="3.2"/><path d="M1857.3,140V150" stroke-width="1.1"/></g>
<g fill="none" stroke-linejoin="round" stroke-linecap="round"><polyline points="805.6,885 808,870 810.6,852.4 812.5,787.5 814.4,734 816.3,694 875.1,693.5 880.8,671.7 886.2,665.2 902.6,665.2 908.3,630.4 913.3,615.1 918.7,603.7 923.6,593 926.3,554 928.6,514.6 987.8,514.6 993.5,508.5 1031.4,508.5 1042,503.5 1047,475.6 1074,475.8 1079.8,460 1084.4,450.4 1090.1,449.7 1095.1,441.6 1100.8,440.9 1106.6,434 1116.9,434 1122.6,426.7 1128.3,426.7 1133.3,422.9 1137.9,406.5 1141.7,375.9 1144.4,362.5 1149.4,360.6 1153.9,346.1 1245.6,345.3 1251.4,324.3 1256.7,310.9 1262.1,288 1267,286.9 1304.4,287 1310.5,280 1406.6,280 1412.4,273.3 1418.1,267.5 1428.6,261.2 1439.1,261.2 1444.9,251.3 1450,246.9 1514,246.9" stroke="#3cb43c" stroke-width="1.6"/><polyline points="1568.3,243.3 1642.9,243.3 1647.7,239.3 1654.3,238.9 1659.1,237 1701.2,237 1707.6,234.6 1715.3,229.2 1722.9,225.4 1734.4,224.7 1740.5,222.1 1744.3,211.7 1748.9,203.3 1751.9,201 1760.4,200.2 1763.4,197.2 1766,190" stroke="#3cb43c" stroke-width="1.6"/><polyline points="392,380 396.2,394.9 407.4,396.1 409.9,404.8 413.6,417.8 418.6,421 424.3,446.3 455.8,446.3 462,450.8 472,450.8 478.2,462 483.2,462 488.1,485.6 494.3,493.5 499.3,510.4 504.8,520.9 510.5,544.7 537.3,544.7 542.8,578.8 551.5,640 554,652.5 617.5,652.5" stroke="#e03a3e" stroke-width="1.6"/><polyline points="639.8,539 642.5,546.7 650,553.6 666,553.6 671,581 675.7,598.3 678.8,619.3 682.6,648 687.6,648 692,667 701.7,671 708.6,678.6 788.8,678.6" stroke="#e03a3e" stroke-width="1.6"/><polyline points="1526.3,195 1530.5,202.6 1557.8,202.6" stroke="#e03a3e" stroke-width="1.8"/><polyline points="623,643.3 638,643.3 640,650" stroke="#3cb43c" stroke-width="1.4"/></g><g fill="none" stroke-width="2.1" stroke-dasharray="6.3,4.45"><path d="M805.6,738.4H1506" stroke="#4cc44c"/><path d="M386.25,405.3H617.5" stroke="#dd3548" stroke-width="1.9"/><path d="M617.5,643.4H790" stroke="#dd3548" stroke-width="1.9"/><path d="M1536,255.2H1553" stroke="#dd3548" stroke-width="1.9"/><path d="M1568.3,183.1H1600" stroke="#4cc44c"/><path d="M1849,162H1858M1849,183H1858" stroke="#4cc44c"/></g>
<g fill="#fff" fill-opacity="0.85"><circle cx="440" cy="405.3" r="5.2"/><circle cx="558.3" cy="405.3" r="5.2"/><circle cx="440" cy="446.6" r="5.2"/><circle cx="558.3" cy="652.5" r="5.2"/><circle cx="677.3" cy="603.7" r="5.2"/><circle cx="677.3" cy="644.6" r="5.2"/><circle cx="677.3" cy="683.5" r="5.2"/><circle cx="795.3" cy="664" r="5.2"/><circle cx="913.3" cy="615.1" r="5.2"/><circle cx="1031.4" cy="509.3" r="5.2"/><circle cx="1149.4" cy="361.8" r="5.2"/><circle cx="1267" cy="287.2" r="5.2"/><circle cx="1386.6" cy="280.9" r="5.2"/><circle cx="1504.4" cy="247.8" r="5.2"/><circle cx="913.3" cy="738.4" r="5.2"/><circle cx="1031.4" cy="738.4" r="5.2"/><circle cx="1149.4" cy="738.4" r="5.2"/><circle cx="1267" cy="738.4" r="5.2"/><circle cx="1386.6" cy="738.4" r="5.2"/><circle cx="1504.4" cy="738.4" r="5.2"/><circle cx="1622.4" cy="243.3" r="5.2"/><circle cx="1740.5" cy="221.9" r="5.2"/><circle cx="1857.6" cy="161.6" r="5.2"/><circle cx="1857.6" cy="183.2" r="5.2"/></g><g fill="#fff" stroke="#2b55c4" stroke-width="1.45"><circle cx="440" cy="405.3" r="3.4"/><circle cx="558.3" cy="405.3" r="3.4"/><circle cx="440" cy="446.6" r="3.4"/><circle cx="558.3" cy="652.5" r="3.4"/><circle cx="677.3" cy="603.7" r="3.4"/><circle cx="677.3" cy="644.6" r="3.4"/><circle cx="677.3" cy="683.5" r="3.4"/><circle cx="795.3" cy="664" r="3.4"/><circle cx="913.3" cy="615.1" r="3.4"/><circle cx="1031.4" cy="509.3" r="3.4"/><circle cx="1149.4" cy="361.8" r="3.4"/><circle cx="1267" cy="287.2" r="3.4"/><circle cx="1386.6" cy="280.9" r="3.4"/><circle cx="1504.4" cy="247.8" r="3.4"/><circle cx="913.3" cy="738.4" r="3.4"/><circle cx="1031.4" cy="738.4" r="3.4"/><circle cx="1149.4" cy="738.4" r="3.4"/><circle cx="1267" cy="738.4" r="3.4"/><circle cx="1386.6" cy="738.4" r="3.4"/><circle cx="1504.4" cy="738.4" r="3.4"/><circle cx="1622.4" cy="243.3" r="3.4"/><circle cx="1740.5" cy="221.9" r="3.4"/><circle cx="1857.6" cy="161.6" r="3.4"/><circle cx="1857.6" cy="183.2" r="3.4"/></g>
<rect x="590" y="524" width="49.8" height="19" rx="3" fill="#f6abb3"/><text x="614.9" y="537.3" font-size="10.5" fill="#fff" font-weight="700" text-anchor="middle" textLength="38.8" lengthAdjust="spacingAndGlyphs" fill-opacity="0.92">-0.0447%</text><polygon points="805.6,884 811,893 816,893" fill="#b4ded8"/><rect x="809.8" y="891.4" width="47.2" height="20.3" rx="3" fill="#b4ded8"/><text x="833.4" y="905.35" font-size="10.5" fill="#fff" font-weight="700" text-anchor="middle" textLength="36.2" lengthAdjust="spacingAndGlyphs" fill-opacity="0.92">5.384%</text><rect x="1475.4" y="177.5" width="50.9" height="21" rx="3" fill="#fbc5ca"/><text x="1500.85" y="191.8" font-size="10.5" fill="#fff" font-weight="700" text-anchor="middle" textLength="39.9" lengthAdjust="spacingAndGlyphs" fill-opacity="0.92">-0.5681%</text><polygon points="1568.3,243.3 1573,256 1580,249" fill="#b8e0da"/><rect x="1572.2" y="248.9" width="48.7" height="20.6" rx="3" fill="#b8e0da"/><text x="1596.55" y="263" font-size="10.5" fill="#fff" font-weight="700" text-anchor="middle" textLength="37.7" lengthAdjust="spacingAndGlyphs" fill-opacity="0.92">0.2788%</text>
<text x="1866.7" y="98.25" font-size="14.4" fill="#1c1e25" textLength="43" lengthAdjust="spacingAndGlyphs" stroke="#1c1e25" stroke-width="0.25">0.64500</text><text x="1866.7" y="242.41" font-size="14.4" fill="#1c1e25" textLength="43" lengthAdjust="spacingAndGlyphs" stroke="#1c1e25" stroke-width="0.25">0.63500</text><text x="1866.7" y="314.49" font-size="14.4" fill="#1c1e25" textLength="43" lengthAdjust="spacingAndGlyphs" stroke="#1c1e25" stroke-width="0.25">0.63000</text><text x="1866.7" y="386.57" font-size="14.4" fill="#1c1e25" textLength="43" lengthAdjust="spacingAndGlyphs" stroke="#1c1e25" stroke-width="0.25">0.62500</text><text x="1866.7" y="458.65" font-size="14.4" fill="#1c1e25" textLength="43" lengthAdjust="spacingAndGlyphs" stroke="#1c1e25" stroke-width="0.25">0.62000</text><text x="1866.7" y="530.73" font-size="14.4" fill="#1c1e25" textLength="43" lengthAdjust="spacingAndGlyphs" stroke="#1c1e25" stroke-width="0.25">0.61500</text><text x="1866.7" y="602.81" font-size="14.4" fill="#1c1e25" textLength="43" lengthAdjust="spacingAndGlyphs" stroke="#1c1e25" stroke-width="0.25">0.61000</text><text x="1866.7" y="674.89" font-size="14.4" fill="#1c1e25" textLength="43" lengthAdjust="spacingAndGlyphs" stroke="#1c1e25" stroke-width="0.25">0.60500</text><text x="1866.7" y="746.97" font-size="14.4" fill="#1c1e25" textLength="43" lengthAdjust="spacingAndGlyphs" stroke="#1c1e25" stroke-width="0.25">0.60000</text><text x="1866.7" y="819.05" font-size="14.4" fill="#1c1e25" textLength="43" lengthAdjust="spacingAndGlyphs" stroke="#1c1e25" stroke-width="0.25">0.59500</text><text x="1866.7" y="891.13" font-size="14.4" fill="#1c1e25" textLength="43" lengthAdjust="spacingAndGlyphs" stroke="#1c1e25" stroke-width="0.25">0.59000</text><text x="1866.7" y="963.21" font-size="14.4" fill="#1c1e25" textLength="43" lengthAdjust="spacingAndGlyphs" stroke="#1c1e25" stroke-width="0.25">0.58500</text><text x="17.1" y="996" font-size="14.4" fill="#1c1e25" text-anchor="middle" textLength="29.5" lengthAdjust="spacingAndGlyphs" stroke="#1c1e25" stroke-width="0.2">12:00</text><text x="81.51" y="996" font-size="14.4" fill="#1c1e25" font-weight="700" text-anchor="middle" textLength="7.3" lengthAdjust="spacingAndGlyphs">2</text><text x="145.93" y="996" font-size="14.4" fill="#1c1e25" text-anchor="middle" textLength="29.5" lengthAdjust="spacingAndGlyphs" stroke="#1c1e25" stroke-width="0.2">12:00</text><text x="210.34" y="996" font-size="14.4" fill="#1c1e25" font-weight="700" text-anchor="middle" textLength="7.3" lengthAdjust="spacingAndGlyphs">3</text><text x="274.75" y="996" font-size="14.4" fill="#1c1e25" text-anchor="middle" textLength="29.5" lengthAdjust="spacingAndGlyphs" stroke="#1c1e25" stroke-width="0.2">12:00</text><text x="339.16" y="996" font-size="14.4" fill="#1c1e25" font-weight="700" text-anchor="middle" textLength="7.3" lengthAdjust="spacingAndGlyphs">4</text><text x="451.88" y="996" font-size="14.4" fill="#1c1e25" font-weight="700" text-anchor="middle" textLength="7.3" lengthAdjust="spacingAndGlyphs">6</text><text x="532.4" y="996" font-size="14.4" fill="#1c1e25" text-anchor="middle" textLength="29.5" lengthAdjust="spacingAndGlyphs" stroke="#1c1e25" stroke-width="0.2">12:00</text><text x="596.81" y="996" font-size="14.4" fill="#1c1e25" font-weight="700" text-anchor="middle" textLength="7.3" lengthAdjust="spacingAndGlyphs">8</text><text x="661.22" y="996" font-size="14.4" fill="#1c1e25" text-anchor="middle" textLength="29.5" lengthAdjust="spacingAndGlyphs" stroke="#1c1e25" stroke-width="0.2">12:00</text><text x="725.64" y="996" font-size="14.4" fill="#1c1e25" font-weight="700" text-anchor="middle" textLength="7.3" lengthAdjust="spacingAndGlyphs">9</text><text x="790.05" y="996" font-size="14.4" fill="#1c1e25" text-anchor="middle" textLength="29.5" lengthAdjust="spacingAndGlyphs" stroke="#1c1e25" stroke-width="0.2">12:00</text><text x="854.46" y="996" font-size="14.4" fill="#1c1e25" font-weight="700" text-anchor="middle" textLength="14" lengthAdjust="spacingAndGlyphs">10</text><text x="918.87" y="996" font-size="14.4" fill="#1c1e25" text-anchor="middle" textLength="29.5" lengthAdjust="spacingAndGlyphs" stroke="#1c1e25" stroke-width="0.2">12:00</text><text x="983.29" y="996" font-size="14.4" fill="#1c1e25" font-weight="700" text-anchor="middle" textLength="14" lengthAdjust="spacingAndGlyphs">11</text><text x="1096.01" y="996" font-size="14.4" fill="#1c1e25" font-weight="700" text-anchor="middle" textLength="14" lengthAdjust="spacingAndGlyphs">13</text><text x="1176.52" y="996" font-size="14.4" fill="#1c1e25" text-anchor="middle" textLength="29.5" lengthAdjust="spacingAndGlyphs" stroke="#1c1e25" stroke-width="0.2">12:00</text><text x="1240.94" y="996" font-size="14.4" fill="#1c1e25" font-weight="700" text-anchor="middle" textLength="14" lengthAdjust="spacingAndGlyphs">15</text><text x="1305.35" y="996" font-size="14.4" fill="#1c1e25" text-anchor="middle" textLength="29.5" lengthAdjust="spacingAndGlyphs" stroke="#1c1e25" stroke-width="0.2">12:00</text><text x="1369.76" y="996" font-size="14.4" fill="#1c1e25" font-weight="700" text-anchor="middle" textLength="14" lengthAdjust="spacingAndGlyphs">16</text><text x="1434.17" y="996" font-size="14.4" fill="#1c1e25" text-anchor="middle" textLength="29.5" lengthAdjust="spacingAndGlyphs" stroke="#1c1e25" stroke-width="0.2">12:00</text><text x="1498.59" y="996" font-size="14.4" fill="#1c1e25" font-weight="700" text-anchor="middle" textLength="14" lengthAdjust="spacingAndGlyphs">17</text><text x="1563" y="996" font-size="14.4" fill="#1c1e25" text-anchor="middle" textLength="29.5" lengthAdjust="spacingAndGlyphs" stroke="#1c1e25" stroke-width="0.2">12:00</text><text x="1627.41" y="996" font-size="14.4" fill="#1c1e25" font-weight="700" text-anchor="middle" textLength="14" lengthAdjust="spacingAndGlyphs">18</text><text x="1740.13" y="996" font-size="14.4" fill="#1c1e25" font-weight="700" text-anchor="middle" textLength="14" lengthAdjust="spacingAndGlyphs">20</text><text x="1820.65" y="996" font-size="14.4" fill="#1c1e25" text-anchor="middle" textLength="29.5" lengthAdjust="spacingAndGlyphs" stroke="#1c1e25" stroke-width="0.2">12:00</text><path d="M0,1007.5H1920" stroke="#e4e5e8" stroke-width="1.6"/><path d="M0,1.5H1920" stroke="#e6e7ea" stroke-width="2"/><polygon points="1896.9,992 1893.2,998.41 1885.8,998.41 1882.1,992 1885.8,985.59 1893.2,985.59" fill="none" stroke="#1c1e25" stroke-width="1.2" stroke-linejoin="round"/><circle cx="1889.5" cy="992" r="2.3" fill="none" stroke="#1c1e25" stroke-width="1.2"/>
<rect x="1858.8" y="3.6" width="55.8" height="34.6" rx="1.5" fill="#1a9f87"/><text x="1866" y="18.3" font-size="14.4" fill="#fff" font-weight="700" textLength="43.7" lengthAdjust="spacingAndGlyphs" fill-opacity="0.95">0.65211</text><text x="1866" y="34.2" font-size="14.4" fill="#fff" font-weight="700" textLength="30.2" lengthAdjust="spacingAndGlyphs" fill-opacity="0.9">41:01</text><rect x="1859.3" y="130.6" width="55.3" height="18.4" rx="2.2" fill="#fff" stroke="#1fa08a" stroke-width="1.5"/><text x="1866" y="144.8" font-size="14.4" fill="#1fa08a" textLength="43.7" lengthAdjust="spacingAndGlyphs" stroke="#1fa08a" stroke-width="0.22">0.64177</text><rect x="1859.3" y="152.6" width="55.3" height="18" rx="2.2" fill="#fff" stroke="#2bb02b" stroke-width="1.5"/><text x="1866" y="166.6" font-size="14.4" fill="#2bb02b" textLength="43.7" lengthAdjust="spacingAndGlyphs" stroke="#2bb02b" stroke-width="0.22">0.64028</text><rect x="1859.3" y="174.3" width="55.3" height="17.6" rx="2.2" fill="#fff" stroke="#1c1e25" stroke-width="1.5"/><text x="1866" y="188.1" font-size="14.4" fill="#1c1e25" textLength="43.7" lengthAdjust="spacingAndGlyphs" stroke="#1c1e25" stroke-width="0.22">0.63875</text><rect x="1859.3" y="193.5" width="55.3" height="17.9" rx="2.2" fill="#fff" stroke="#2a5bd0" stroke-width="1.5"/><text x="1866" y="207.45" font-size="14.4" fill="#2a5bd0" textLength="43.7" lengthAdjust="spacingAndGlyphs" stroke="#2a5bd0" stroke-width="0.22">0.63875</text><rect x="1859.3" y="213.2" width="55.3" height="17.2" rx="2.2" fill="#fff" stroke="#e03038" stroke-width="1.5"/><text x="1866" y="226.8" font-size="14.4" fill="#e03038" textLength="43.7" lengthAdjust="spacingAndGlyphs" stroke="#e03038" stroke-width="0.22">0.63735</text><rect x="1859.3" y="246.6" width="55.3" height="18.1" rx="2.2" fill="#fff" stroke="#1c1e25" stroke-width="1.5"/><text x="1866" y="260.65" font-size="14.4" fill="#1c1e25" textLength="43.7" lengthAdjust="spacingAndGlyphs" stroke="#1c1e25" stroke-width="0.22">0.63373</text>
<g clip-path="url(#cpTool)"><rect x="824.3" y="3" width="470" height="42.5" rx="4" fill="#fff" filter="url(#sh2)"/><g fill="#d3d4d8"><rect x="832.4" y="17.6" width="1.7" height="1.7"/><rect x="832.4" y="23" width="1.7" height="1.7"/><rect x="832.4" y="28.6" width="1.7" height="1.7"/><rect x="838.3" y="17.6" width="1.7" height="1.7"/><rect x="838.3" y="23" width="1.7" height="1.7"/><rect x="838.3" y="28.6" width="1.7" height="1.7"/></g><g fill="#fff" stroke="#1e1f24" stroke-width="1.25" stroke-linecap="round"><path d="M859.6,15.4L876.9,15.4" /><path d="M862,23.6L875,18" stroke-dasharray="0.1,2.9" stroke-width="1.4" stroke="#555"/><path d="M859.6,26.6L873.5,26.6" /><path d="M859.6,33.5L876.9,33.5" /><circle cx="857.5" cy="15.4" r="2.1"/><circle cx="857.5" cy="26.6" r="2.1"/><circle cx="875.6" cy="26.6" r="2.1"/><circle cx="857.5" cy="33.5" r="2.1"/><path d="M897.5,15.4L915,15.4" /><path d="M897.5,22.3L911.4,22.3" /><path d="M900,24.6L913,30.6" stroke-dasharray="0.1,2.9" stroke-width="1.4" stroke="#555"/><path d="M897.5,33.5L915,33.5" /><circle cx="895.4" cy="15.4" r="2.1"/><circle cx="895.4" cy="22.3" r="2.1"/><circle cx="913.5" cy="22.3" r="2.1"/><circle cx="895.4" cy="33.5" r="2.1"/><path d="M935.8,31.9L950.1,15.7" /><circle cx="934.4" cy="33.5" r="2.1"/><circle cx="951.5" cy="14.1" r="2.1"/><path d="M975.5,24.4L991.9,24.4" /><circle cx="973.4" cy="24.4" r="2.1"/><path d="M1009.1,24.4L1017.3,24.4" /><path d="M1021.5,24.4L1030,24.4" /><circle cx="1019.4" cy="24.4" r="2.1"/><path d="M1057.5,12.5L1057.5,22.3" /><path d="M1057.5,26.5L1057.5,36.3" /><circle cx="1057.5" cy="24.4" r="2.1"/><path d="M1088.7,28.4L1099,16.9" /><path d="M1106.3,21.3L1101,27.4" /><path d="M1098.2,30.6L1093.1,36.3" /><circle cx="1100.4" cy="15.3" r="2.1"/><circle cx="1087.3" cy="30" r="2.1"/><circle cx="1099.6" cy="29" r="2.1"/><path d="M1122.1,12.9L1144,12.9" /><path d="M1122.1,19.8L1141.7,19.8" /><path d="M1122.1,26.6L1144,26.6" /><path d="M1124.4,33.5L1144,33.5" /><circle cx="1143.8" cy="19.8" r="2.1"/><circle cx="1122.3" cy="33.5" r="2.1"/><path d="M1163.3,18L1173.4,13.7" /><path d="M1161.3,20.9L1161.3,24.4" /><path d="M1163.4,26.5L1183.1,26.5" /><path d="M1161.3,31.3L1183.1,31.3" /><path d="M1161.3,35.9L1183.1,35.9" /><circle cx="1175.4" cy="12.9" r="2.1"/><circle cx="1161.3" cy="18.8" r="2.1"/><circle cx="1161.3" cy="26.5" r="2.1"/><path d="M1196.3,29.4L1203,21.4" /><path d="M1205.8,21.5L1210,26.5" /><path d="M1212.7,26.5L1221.9,16.5" /><path d="M1216.3,16.3H1221.9V22.5" fill="none" stroke-linejoin="miter"/><circle cx="1204.4" cy="19.8" r="2.1"/><circle cx="1211.3" cy="28.1" r="2.1"/><path d="M1240.5,14.1L1253.5,14.1" /><path d="M1240.5,33.5L1253.5,33.5" /><path d="M1238.4,16.2L1238.4,31.4" /><path d="M1255.6,16.2L1255.6,31.4" /><circle cx="1238.4" cy="14.1" r="2.1"/><circle cx="1255.6" cy="14.1" r="2.1"/><circle cx="1238.4" cy="33.5" r="2.1"/><circle cx="1255.6" cy="33.5" r="2.1"/><path d="M1275.5,30.8A1.9,1.9 0 1 0 1275.5,34.2" fill="none"/></g></g>
<path d="M1260.5,0 L1284,52 Q1295,79.5 1318,79.5 L1524,79.5 Q1548,79.5 1558,56 L1578.5,0 Z" fill="#f4f4f5" fill-opacity="0.97"/><g fill="none" stroke="#6d6d70" stroke-width="1.45" stroke-linejoin="round" stroke-linecap="butt"><path d="M1455.9,16.6H1463"/><path d="M1462.4,21.3V30.3H1453"/><path d="M1453,21.3V32.4Q1453,34.6 1450.6,34.6H1447"/><path d="M1446.2,21.3V30.3H1429.4"/><path d="M1432.5,21.6H1436.6V30.3"/><path d="M1438,34.6H1442.8"/><path d="M1426.3,21.3V30.3H1390.6V25.4"/><path d="M1421.2,34.6H1426.7"/><path d="M1416.5,21.3V30.3"/><path d="M1407.4,15.2L1401,22H1406.7V30.3" stroke-width="1.6"/><path d="M1402.6,16.8L1396.6,21.6H1398.6" stroke-width="0.8"/><path d="M1384.3,30.3V21.8H1379.2V30.3M1384.3,30.3H1371.4V18.2"/><path d="M1366.3,21.3V30.3H1341.7"/><path d="M1361.2,34.5H1366.8"/><path d="M1356.9,21.3V30.3"/><path d="M1344,21.6H1348.9V30.3"/><path d="M1338.4,21.3V28Q1338.4,30.3 1336,30.3H1332.3"/></g><g fill="#6d6d70"><circle cx="1416.2" cy="16.3" r="1.15"/><circle cx="1380.7" cy="18" r="1.1"/><circle cx="1356.9" cy="17.2" r="1.15"/></g><g fill="none" stroke="#6d6d70" stroke-width="1.3" stroke-linejoin="round" stroke-linecap="butt"><path d="M1331.3,44.7H1342.6M1336.9,44.7V57.0"/><path d="M1344.5,57.0V48.2H1350.8"/><path d="M1353,48.2H1360.2V56.4H1352V52.2H1360.2"/><path d="M1372,44.300000000000004V56.4H1364V48.2H1372"/><path d="M1376.2,48.2V57.0M1376.2,44.300000000000004V46.1"/><path d="M1380.4,57.0V48.2H1388.4V57.0"/><path d="M1401,48.2H1392.3V56.4H1401M1401,48.2V59.7H1393.8"/><path d="M1405,57.0V44.7H1414.2M1405,50.6H1412.6"/><path d="M1417.6,48.2V57.0M1417.6,44.300000000000004V46.1"/><path d="M1422,57.0V48.2H1430V57.0"/><path d="M1442,44.300000000000004V56.4H1433.8V48.2H1442"/><path d="M1454,56.4H1445.8V48.2H1454V52.4H1445.8"/><path d="M1457.5,57.0V48.2H1462.8"/></g><g fill="none" stroke="#2ae0f2" stroke-width="2.1" stroke-linejoin="miter"><path d="M1481.2,16.6H1489.3V33.6H1481.2Z"/><path d="M1508.6,27.6H1495.6L1481.2,42.2V49.6L1488.6,56.5H1508.6V48.6H1489.3V41.2L1497.8,34.2H1508.6Z"/></g>
<rect x="1592.6" y="13" width="255.6" height="183.7" fill="#0e1a44"/><g stroke="#1a2a68" stroke-width="1.2"><path d="M1592.6,13V196.7"/><path d="M1680.3,13V196.7"/><path d="M1736.6,13V196.7"/><path d="M1792.6,13V196.7"/><path d="M1848.2,13V196.7"/><path d="M1592.6,13H1848.2"/><path d="M1592.6,43.3H1848.2"/><path d="M1592.6,74.1H1848.2"/><path d="M1592.6,104.7H1848.2"/><path d="M1592.6,135.2H1848.2"/><path d="M1592.6,166.2H1848.2"/><path d="M1592.6,196.7H1848.2"/></g><rect x="1592.8999999999999" y="13.3" width="255" height="183.1" fill="none" stroke="#0b1538" stroke-width="1.4"/><text x="1636.45" y="32.9" font-size="16.6" fill="#fff" font-weight="700" text-anchor="middle" textLength="30.2" lengthAdjust="spacingAndGlyphs">Title</text><text x="1708.45" y="32.9" font-size="16.6" fill="#e8303a" text-anchor="middle" textLength="39.2" lengthAdjust="spacingAndGlyphs" stroke="#e8303a" stroke-width="0.28">Shorts</text><text x="1764.6" y="32.9" font-size="16.6" fill="#2db32f" text-anchor="middle" textLength="35.8" lengthAdjust="spacingAndGlyphs" stroke="#2db32f" stroke-width="0.28">Longs</text><text x="1820.4" y="32.9" font-size="16.6" fill="#fff" font-weight="700" text-anchor="middle" textLength="31.6" lengthAdjust="spacingAndGlyphs">Total</text><text x="1636.45" y="63.2" font-size="16.6" fill="#2bb8ee" text-anchor="middle" textLength="24.5" lengthAdjust="spacingAndGlyphs" stroke="#2bb8ee" stroke-width="0.28">PNL</text><text x="1708.45" y="63.2" font-size="16.6" fill="#fff" font-weight="700" text-anchor="middle" textLength="37.3" lengthAdjust="spacingAndGlyphs">0.84%</text><text x="1764.6" y="63.2" font-size="16.6" fill="#fff" font-weight="700" text-anchor="middle" textLength="36.7" lengthAdjust="spacingAndGlyphs">3.45%</text><text x="1820.4" y="63.2" font-size="16.6" fill="#fff" font-weight="700" text-anchor="middle" textLength="37.1" lengthAdjust="spacingAndGlyphs">4.28%</text><text x="1636.45" y="94" font-size="16.6" fill="#2bb8ee" text-anchor="middle" textLength="73.4" lengthAdjust="spacingAndGlyphs" stroke="#2bb8ee" stroke-width="0.28">Gross Profit</text><text x="1708.45" y="94" font-size="16.6" fill="#fff" font-weight="700" text-anchor="middle" textLength="43.8" lengthAdjust="spacingAndGlyphs">29.32%</text><text x="1764.6" y="94" font-size="16.6" fill="#fff" font-weight="700" text-anchor="middle" textLength="44" lengthAdjust="spacingAndGlyphs">26.05%</text><text x="1820.4" y="94" font-size="16.6" fill="#fff" font-weight="700" text-anchor="middle" textLength="44" lengthAdjust="spacingAndGlyphs">55.36%</text><text x="1636.45" y="124.6" font-size="16.6" fill="#2bb8ee" text-anchor="middle" textLength="65.4" lengthAdjust="spacingAndGlyphs" stroke="#2bb8ee" stroke-width="0.28">Gross Loss</text><text x="1708.45" y="124.6" font-size="16.6" fill="#fff" font-weight="700" text-anchor="middle" textLength="43.8" lengthAdjust="spacingAndGlyphs">28.48%</text><text x="1764.6" y="124.6" font-size="16.6" fill="#fff" font-weight="700" text-anchor="middle" textLength="36.3" lengthAdjust="spacingAndGlyphs">22.6%</text><text x="1820.4" y="124.6" font-size="16.6" fill="#fff" font-weight="700" text-anchor="middle" textLength="44" lengthAdjust="spacingAndGlyphs">51.08%</text><text x="1636.45" y="155.1" font-size="16.6" fill="#2bb8ee" text-anchor="middle" textLength="56.6" lengthAdjust="spacingAndGlyphs" stroke="#2bb8ee" stroke-width="0.28">Win Rate</text><text x="1708.45" y="155.1" font-size="16.6" fill="#fff" font-weight="700" text-anchor="middle" textLength="43.8" lengthAdjust="spacingAndGlyphs">38.02%</text><text x="1764.6" y="155.1" font-size="16.6" fill="#fff" font-weight="700" text-anchor="middle" textLength="44" lengthAdjust="spacingAndGlyphs">38.98%</text><text x="1820.4" y="155.1" font-size="16.6" fill="#fff" font-weight="700" text-anchor="middle" textLength="44" lengthAdjust="spacingAndGlyphs">38.49%</text><text x="1636.45" y="186.1" font-size="16.6" fill="#2bb8ee" text-anchor="middle" textLength="76.3" lengthAdjust="spacingAndGlyphs" stroke="#2bb8ee" stroke-width="0.28">Total Trades</text><text x="1708.45" y="186.1" font-size="16.6" fill="#fff" font-weight="700" text-anchor="middle" textLength="21.5" lengthAdjust="spacingAndGlyphs">121</text><text x="1764.6" y="186.1" font-size="16.6" fill="#fff" font-weight="700" text-anchor="middle" textLength="22" lengthAdjust="spacingAndGlyphs">118</text><text x="1820.4" y="186.1" font-size="16.6" fill="#fff" font-weight="700" text-anchor="middle" textLength="23" lengthAdjust="spacingAndGlyphs">239</text>
<clipPath id="cpUS"><circle cx="22" cy="16.2" r="5.6"/></clipPath><g clip-path="url(#cpUS)"><rect x="16" y="10" width="12" height="12.4" fill="#fff"/><path d="M16,11.6H28M16,14.2H28M16,16.8H28M16,19.4H28M16,22H28" stroke="#e8414c" stroke-width="1.3"/><rect x="16" y="10" width="6.2" height="7" fill="#3b5fc0"/><path d="M17.3,11.6H22M17.3,13.6H22M17.3,15.6H22" stroke="#cfd8f3" stroke-width="0.7" stroke-dasharray="0.8,0.8"/></g><circle cx="15" cy="23.7" r="7.1" fill="#fff"/><circle cx="15" cy="23.7" r="6.2" fill="#1b3c9e"/><path d="M10,19.6L14.6,23.2M14.2,19.4L10.4,23" stroke="#e8565f" stroke-width="1"/><g fill="#fff"><circle cx="12.6" cy="26.6" r="0.9"/><circle cx="17.6" cy="21.2" r="0.6"/><circle cx="19" cy="24.4" r="0.6"/><circle cx="17" cy="27.6" r="0.6"/></g><text x="30.8" y="27.2" font-size="17.4" fill="#15171e" textLength="71.4" lengthAdjust="spacingAndGlyphs" stroke="#15171e" stroke-width="0.3">Australian</text><text x="107.8" y="27.2" font-size="17.4" fill="#15171e" textLength="42.5" lengthAdjust="spacingAndGlyphs" stroke="#15171e" stroke-width="0.3">Dollar</text><text x="160.7" y="27.2" font-size="17.4" fill="#15171e" text-anchor="middle" stroke="#15171e" stroke-width="0.3">/</text><text x="168.3" y="27.2" font-size="17.4" fill="#15171e" textLength="29.3" lengthAdjust="spacingAndGlyphs" stroke="#15171e" stroke-width="0.3">U.S.</text><text x="202.6" y="27.2" font-size="17.4" fill="#15171e" textLength="42.9" lengthAdjust="spacingAndGlyphs" stroke="#15171e" stroke-width="0.3">Dollar</text><text x="252.4" y="27.2" font-size="17.4" fill="#15171e" text-anchor="middle" stroke="#15171e" stroke-width="0.3">·</text><text x="257.8" y="27.2" font-size="17.4" fill="#15171e" textLength="16.9" lengthAdjust="spacingAndGlyphs" stroke="#15171e" stroke-width="0.3">1h</text><text x="280.5" y="27.2" font-size="17.4" fill="#15171e" text-anchor="middle" stroke="#15171e" stroke-width="0.3">·</text><text x="286.6" y="27.2" font-size="17.4" fill="#15171e" textLength="39.1" lengthAdjust="spacingAndGlyphs" stroke="#15171e" stroke-width="0.3">FXCM</text><path d="M349.6,10.8H359V30.4H349.6A9.8,9.8 0 0 1 349.6,10.8Z" fill="#d6efe9"/><path d="M359,10.8H370A9.8,9.8 0 0 1 370,30.4H359Z" fill="#f9c6d3"/><circle cx="350.6" cy="20.3" r="3.6" fill="#0a9981"/><text x="369" y="25.3" font-size="15" fill="#e5305a" font-weight="700" text-anchor="middle">≈</text><text x="395.5" y="26.2" font-size="14.4" fill="#131722" textLength="9.2" lengthAdjust="spacingAndGlyphs" stroke="#131722" stroke-width="0.22">O</text><text x="404.5" y="26.2" font-size="14.4" fill="#0f9d84" textLength="47.5" lengthAdjust="spacingAndGlyphs" stroke="#0f9d84" stroke-width="0.22">0.65160</text><text x="457" y="26.2" font-size="14.4" fill="#131722" textLength="9.7" lengthAdjust="spacingAndGlyphs" stroke="#131722" stroke-width="0.22">H</text><text x="466.5" y="26.2" font-size="14.4" fill="#0f9d84" textLength="46.5" lengthAdjust="spacingAndGlyphs" stroke="#0f9d84" stroke-width="0.22">0.65212</text><text x="518" y="26.2" font-size="14.4" fill="#131722" textLength="6.7" lengthAdjust="spacingAndGlyphs" stroke="#131722" stroke-width="0.22">L</text><text x="524.5" y="26.2" font-size="14.4" fill="#0f9d84" textLength="47.5" lengthAdjust="spacingAndGlyphs" stroke="#0f9d84" stroke-width="0.22">0.65155</text><text x="577.5" y="26.2" font-size="14.4" fill="#131722" textLength="8.2" lengthAdjust="spacingAndGlyphs" stroke="#131722" stroke-width="0.22">C</text><text x="585.5" y="26.2" font-size="14.4" fill="#0f9d84" textLength="46.7" lengthAdjust="spacingAndGlyphs" stroke="#0f9d84" stroke-width="0.22">0.65211</text><text x="637.5" y="26.2" font-size="14.4" fill="#0f9d84" textLength="53.2" lengthAdjust="spacingAndGlyphs" stroke="#0f9d84" stroke-width="0.22">+0.00051</text><text x="694.8" y="26.2" font-size="14.4" fill="#0f9d84" textLength="49.5" lengthAdjust="spacingAndGlyphs" stroke="#0f9d84" stroke-width="0.22">(+0.08%)</text><rect x="8.8" y="39.3" width="65.6" height="36.8" rx="5.4" fill="#fff" stroke="#e4626c" stroke-width="1.35"/><rect x="106.8" y="39.3" width="65.4" height="36.8" rx="5.4" fill="#fff" stroke="#4f7be0" stroke-width="1.35"/><text x="18.7" y="55.6" font-size="14.4" fill="#e0404b" textLength="39.4" lengthAdjust="spacingAndGlyphs" stroke="#e0404b" stroke-width="0.35">0.6521</text><text x="58.5" y="53.2" font-size="10.8" fill="#e0404b" textLength="6.6" lengthAdjust="spacingAndGlyphs" stroke="#e0404b" stroke-width="0.3">2</text><text x="29.3" y="71.7" font-size="13" fill="#e0404b" textLength="24.6" lengthAdjust="spacingAndGlyphs" stroke="#e0404b" stroke-width="0.2">SELL</text><text x="116.2" y="55.6" font-size="14.4" fill="#3467dc" textLength="39.3" lengthAdjust="spacingAndGlyphs" stroke="#3467dc" stroke-width="0.35">0.6521</text><text x="156.5" y="53.2" font-size="10.8" fill="#3467dc" textLength="6.4" lengthAdjust="spacingAndGlyphs" stroke="#3467dc" stroke-width="0.3">8</text><text x="128.8" y="71.7" font-size="13" fill="#3467dc" textLength="21.1" lengthAdjust="spacingAndGlyphs" stroke="#3467dc" stroke-width="0.2">BUY</text><text x="82.9" y="62.2" font-size="11" fill="#131722" textLength="15.3" lengthAdjust="spacingAndGlyphs" stroke="#131722" stroke-width="0.25">0.6</text><rect x="7" y="112.6" width="27" height="24" rx="3" fill="#fff" stroke="#e3e4e8" stroke-width="1.2"/><rect x="4.8" y="82" width="370.6" height="26.2" rx="4.2" fill="#fff" stroke="#4f6cca" stroke-width="1.5"/><path d="M376.8,92.2q1.3,3.1 0,6.2" fill="none" stroke="#555" stroke-width="1"/><text x="9.1" y="101" font-size="15.2" fill="#1a1c22" textLength="32.2" lengthAdjust="spacingAndGlyphs" stroke="#1a1c22" stroke-width="0.3">TFlab</text><text x="45.1" y="101" font-size="15.2" fill="#1a1c22" textLength="42.5" lengthAdjust="spacingAndGlyphs" stroke="#1a1c22" stroke-width="0.3">Trailing</text><text x="91.4" y="101" font-size="15.2" fill="#1a1c22" textLength="26.2" lengthAdjust="spacingAndGlyphs" stroke="#1a1c22" stroke-width="0.3">Stop</text><text x="121.8" y="101" font-size="15.2" fill="#686b75" textLength="12.7" lengthAdjust="spacingAndGlyphs" stroke="#686b75" stroke-width="0.22">10</text><text x="137.6" y="101" font-size="15.2" fill="#686b75" textLength="25.6" lengthAdjust="spacingAndGlyphs" stroke="#686b75" stroke-width="0.22">Very</text><text x="167" y="101" font-size="15.2" fill="#686b75" textLength="28.1" lengthAdjust="spacingAndGlyphs" stroke="#686b75" stroke-width="0.22">tight</text><text x="198.9" y="101" font-size="15.2" fill="#686b75" textLength="23.7" lengthAdjust="spacingAndGlyphs" stroke="#686b75" stroke-width="0.22">SMA</text><text x="225.1" y="101" font-size="15.2" fill="#686b75" textLength="13.1" lengthAdjust="spacingAndGlyphs" stroke="#686b75" stroke-width="0.22">2x</text><text x="242.6" y="101" font-size="15.2" fill="#686b75" textLength="16.2" lengthAdjust="spacingAndGlyphs" stroke="#686b75" stroke-width="0.22">On</text><g fill="none" stroke="#24262d" stroke-width="1.25" stroke-linejoin="round" stroke-linecap="round"><path d="M269.3,95.3C271.4,91 274,88.9 276.9,88.9S282.4,91 284.5,95.3C282.4,99.6 279.8,101.7 276.9,101.7S271.4,99.6 269.3,95.3Z"/><circle cx="276.9" cy="95.3" r="2.6"/></g><g fill="none" stroke="#24262d" stroke-width="1.25" stroke-linejoin="round" stroke-linecap="round"><polygon points="311.9,95.3 308.45,101.28 301.55,101.28 298.1,95.3 301.55,89.32 308.45,89.32"/><circle cx="305" cy="95.3" r="2.3"/></g><g fill="none" stroke="#24262d" stroke-width="1.25" stroke-linejoin="round" stroke-linecap="round"><path d="M327.6,91.4H338.6M330.6,91.2V90Q330.6,89 331.8,89H334.4Q335.6,89 335.6,90V91.2M328.8,91.6L329.6,100Q329.8,101.6 331.2,101.6H335Q336.4,101.6 336.6,100L337.4,91.6"/></g><g fill="none" stroke="#24262d" stroke-width="1.25" stroke-linejoin="round" stroke-linecap="round"><circle cx="354.4" cy="95.3" r="1.7"/><circle cx="360.9" cy="95.3" r="1.7"/><circle cx="367.3" cy="95.3" r="1.7"/></g><text x="383.5" y="100" font-size="14.4" fill="#e0303a" textLength="45.4" lengthAdjust="spacingAndGlyphs" stroke="#e0303a" stroke-width="0.22">0.65231</text><text x="435.1" y="100" font-size="14.4" fill="#2c5fd6" textLength="45.6" lengthAdjust="spacingAndGlyphs" stroke="#2c5fd6" stroke-width="0.22">0.65126</text>
<rect x="12" y="115.5" width="380" height="791" rx="6" fill="#fff" filter="url(#sh)"/><text x="31.8" y="162.2" font-size="21.8" fill="#15171d" textLength="52.2" lengthAdjust="spacingAndGlyphs" stroke="#15171d" stroke-width="0.45">TFlab</text><text x="90.1" y="162.2" font-size="21.8" fill="#15171d" textLength="68.9" lengthAdjust="spacingAndGlyphs" stroke="#15171d" stroke-width="0.45">Trailing</text><text x="164.1" y="162.2" font-size="21.8" fill="#15171d" textLength="41.8" lengthAdjust="spacingAndGlyphs" stroke="#15171d" stroke-width="0.45">Stop</text><path d="M350.4,146.2L365.8,162.8M365.8,146.2L350.4,162.8" stroke="#1d1f26" stroke-width="1.4" stroke-linecap="round"/><text x="31.8" y="212.2" font-size="17.6" fill="#15171d" font-weight="700" textLength="46.4" lengthAdjust="spacingAndGlyphs">Inputs</text><text x="101.6" y="212.2" font-size="17.6" fill="#15171d" font-weight="700" textLength="37.6" lengthAdjust="spacingAndGlyphs">Style</text><text x="162.6" y="212.2" font-size="17.6" fill="#15171d" font-weight="700" textLength="65.2" lengthAdjust="spacingAndGlyphs">Visibility</text><rect x="78" y="225.2" width="294" height="3.2" rx="1.5" fill="#f0f0f1"/><rect x="32" y="224.3" width="46" height="4.7" rx="2.3" fill="#15171d"/><text x="31.8" y="282" font-size="16.2" fill="#22242b" textLength="42.9" lengthAdjust="spacingAndGlyphs" stroke="#22242b" stroke-width="0.22">Length</text><rect x="118.3" y="257" width="99.3" height="37.4" rx="6" fill="#fff" stroke="#e0e1e5" stroke-width="1.2"/><text x="126.7" y="282" font-size="15.6" fill="#22242b" textLength="15" lengthAdjust="spacingAndGlyphs" stroke="#22242b" stroke-width="0.22">10</text><text x="31.8" y="338.9" font-size="16.2" fill="#22242b" textLength="66.9" lengthAdjust="spacingAndGlyphs" stroke="#22242b" stroke-width="0.22">Base Level</text><rect x="118.3" y="313.5" width="99.3" height="37.4" rx="6" fill="#fff" stroke="#e0e1e5" stroke-width="1.2"/><text x="126.7" y="338.9" font-size="15.6" fill="#22242b" textLength="62" lengthAdjust="spacingAndGlyphs" stroke="#22242b" stroke-width="0.22">Very tight</text><path d="M200.6,330.6L204.6,334.6L208.6,330.6" fill="none" stroke="#2a2c33" stroke-width="1.25" stroke-linecap="round" stroke-linejoin="round"/><rect x="32.1" y="370.4" width="17.8" height="19.2" rx="3.4" fill="#25262b"/><path d="M36.8,380.6L40,383.7L45.6,376.9" fill="none" stroke="#fff" stroke-width="2.2" stroke-linecap="round" stroke-linejoin="round"/><text x="57.7" y="386" font-size="16.2" fill="#22242b" textLength="52.4" lengthAdjust="spacingAndGlyphs" stroke="#22242b" stroke-width="0.22">Show EP</text><text x="31.7" y="450.4" font-size="11.6" fill="#6e7079" textLength="41.4" lengthAdjust="spacingAndGlyphs" stroke="#6e7079" stroke-width="0.22">RESULTS</text><rect x="32.1" y="483.4" width="17.8" height="19.2" rx="3.4" fill="#25262b"/><path d="M36.8,493.6L40,496.7L45.6,489.9" fill="none" stroke="#fff" stroke-width="2.2" stroke-linecap="round" stroke-linejoin="round"/><text x="57.7" y="499" font-size="16.2" fill="#22242b" textLength="61" lengthAdjust="spacingAndGlyphs" stroke="#22242b" stroke-width="0.22">Show PNL</text><text x="31.8" y="565" font-size="16.2" fill="#22242b" textLength="34.9" lengthAdjust="spacingAndGlyphs" stroke="#22242b" stroke-width="0.22">Filter</text><rect x="118.3" y="540.4" width="99.3" height="37.4" rx="6" fill="#fff" stroke="#e0e1e5" stroke-width="1.2"/><text x="126.7" y="565" font-size="15.6" fill="#22242b" textLength="44" lengthAdjust="spacingAndGlyphs" stroke="#22242b" stroke-width="0.22">SMA 2x</text><path d="M200.6,557.6L204.6,561.6L208.6,557.6" fill="none" stroke="#2a2c33" stroke-width="1.25" stroke-linecap="round" stroke-linejoin="round"/><text x="31.7" y="638.6" font-size="11.6" fill="#6e7079" textLength="31" lengthAdjust="spacingAndGlyphs" stroke="#6e7079" stroke-width="0.22">ALERT</text><text x="31.8" y="696.3" font-size="16.2" fill="#22242b" textLength="31.5" lengthAdjust="spacingAndGlyphs" stroke="#22242b" stroke-width="0.22">Alert</text><rect x="118.3" y="672" width="99.3" height="37.4" rx="6" fill="#fff" stroke="#e0e1e5" stroke-width="1.2"/><text x="126.7" y="696.3" font-size="15.6" fill="#22242b" textLength="18" lengthAdjust="spacingAndGlyphs" stroke="#22242b" stroke-width="0.22">On</text><path d="M200.6,689.2L204.6,693.2L208.6,689.2" fill="none" stroke="#2a2c33" stroke-width="1.25" stroke-linecap="round" stroke-linejoin="round"/><circle cx="236" cy="690.7" r="8" fill="#a9a9ab"/><circle cx="236" cy="686.5" r="1.25" fill="#fff"/><path d="M236,689.4V695.4" stroke="#fff" stroke-width="2"/><text x="31.7" y="759.6" font-size="11.6" fill="#6e7079" textLength="69.4" lengthAdjust="spacingAndGlyphs" stroke="#6e7079" stroke-width="0.22">INPUT VALUES</text><rect x="32.1" y="783.4" width="17.8" height="19.2" rx="3.4" fill="#25262b"/><path d="M36.8,793.6L40,796.7L45.6,789.9" fill="none" stroke="#fff" stroke-width="2.2" stroke-linecap="round" stroke-linejoin="round"/><text x="57.8" y="799" font-size="16.2" fill="#22242b" textLength="39.6" lengthAdjust="spacingAndGlyphs" stroke="#22242b" stroke-width="0.22">Inputs</text><text x="101.2" y="799" font-size="16.2" fill="#22242b" textLength="11.2" lengthAdjust="spacingAndGlyphs" stroke="#22242b" stroke-width="0.22">in</text><text x="116.2" y="799" font-size="16.2" fill="#22242b" textLength="37.8" lengthAdjust="spacingAndGlyphs" stroke="#22242b" stroke-width="0.22">status</text><text x="158.5" y="799" font-size="16.2" fill="#22242b" textLength="23.9" lengthAdjust="spacingAndGlyphs" stroke="#22242b" stroke-width="0.22">line</text><path d="M12,831.3H392" stroke="#ebecee" stroke-width="1.3"/><rect x="32.3" y="850.3" width="98.6" height="37.2" rx="6" fill="#fff" stroke="#e0e1e5" stroke-width="1.2"/><text x="40.5" y="874.6" font-size="15.6" fill="#22242b" textLength="52.6" lengthAdjust="spacingAndGlyphs" stroke="#22242b" stroke-width="0.22">Defaults</text><path d="M114.8,867.6L118.8,871.6L122.8,867.6" fill="none" stroke="#2a2c33" stroke-width="1.25" stroke-linecap="round" stroke-linejoin="round"/><rect x="245.3" y="850.3" width="71.4" height="37.4" rx="6" fill="#fff" stroke="#1d1f26" stroke-width="1.3"/><text x="256.5" y="874.6" font-size="16.6" fill="#1d1f26" textLength="48.6" lengthAdjust="spacingAndGlyphs" stroke="#1d1f26" stroke-width="0.22">Cancel</text><rect x="329" y="849.8" width="43" height="38.4" rx="6" fill="#101012"/><text x="340.3" y="874" font-size="16.8" fill="#fff" textLength="20.4" lengthAdjust="spacingAndGlyphs" stroke="#fff" stroke-width="0.5">Ok</text>
<g fill="#15171c"><path d="M12,942.7H24.5V959.4H18.2V949.3H12Z"/><circle cx="28.6" cy="945.6" r="2.4"/><path d="M32.8,942.7H41.7L36.5,959.4H29.5Z"/></g><text x="49.1" y="959.4" font-size="24" fill="#15171c" font-weight="700" textLength="121" lengthAdjust="spacingAndGlyphs">TradingView</text>
<text x="14.5" y="1035.6" font-size="14.6" fill="#1c1e25" textLength="16.2" lengthAdjust="spacingAndGlyphs" stroke="#1c1e25" stroke-width="0.22">1D</text><text x="42.5" y="1035.6" font-size="14.6" fill="#1c1e25" textLength="16.2" lengthAdjust="spacingAndGlyphs" stroke="#1c1e25" stroke-width="0.22">5D</text><text x="70.5" y="1035.6" font-size="14.6" fill="#1c1e25" textLength="18.2" lengthAdjust="spacingAndGlyphs" stroke="#1c1e25" stroke-width="0.22">1M</text><text x="99.5" y="1035.6" font-size="14.6" fill="#1c1e25" textLength="18.2" lengthAdjust="spacingAndGlyphs" stroke="#1c1e25" stroke-width="0.22">3M</text><text x="128.5" y="1035.6" font-size="14.6" fill="#1c1e25" textLength="18.2" lengthAdjust="spacingAndGlyphs" stroke="#1c1e25" stroke-width="0.22">6M</text><text x="157.5" y="1035.6" font-size="14.6" fill="#1c1e25" textLength="26.2" lengthAdjust="spacingAndGlyphs" stroke="#1c1e25" stroke-width="0.22">YTD</text><text x="194.5" y="1035.6" font-size="14.6" fill="#1c1e25" textLength="16.2" lengthAdjust="spacingAndGlyphs" stroke="#1c1e25" stroke-width="0.22">1Y</text><text x="221.5" y="1035.6" font-size="14.6" fill="#1c1e25" textLength="16.2" lengthAdjust="spacingAndGlyphs" stroke="#1c1e25" stroke-width="0.22">5Y</text><text x="248.5" y="1035.6" font-size="14.6" fill="#1c1e25" textLength="18.2" lengthAdjust="spacingAndGlyphs" stroke="#1c1e25" stroke-width="0.22">All</text><path d="M277.2,1018V1041" stroke="#e4e5e8" stroke-width="1.3"/><g fill="none" stroke="#1c1e25" stroke-width="1.25" stroke-linecap="round" stroke-linejoin="round"><path d="M292.6,1029.6V1023.8Q292.6,1021.8 294.6,1021.8H306.4Q308.4,1021.8 308.4,1023.8V1036.2Q308.4,1038.2 306.4,1038.2H300.6"/><path d="M296.2,1019.6V1024M304.8,1019.6V1024M292.6,1026.6H308.4"/><path d="M290.4,1034.4H298.4M295.4,1031.2L298.6,1034.4L295.4,1037.6"/></g><text x="1825.9" y="1035.6" font-size="14.6" fill="#1c1e25" textLength="84.8" lengthAdjust="spacingAndGlyphs" stroke="#1c1e25" stroke-width="0.22">11:18:59 UTC</text>
</svg></body></html>
